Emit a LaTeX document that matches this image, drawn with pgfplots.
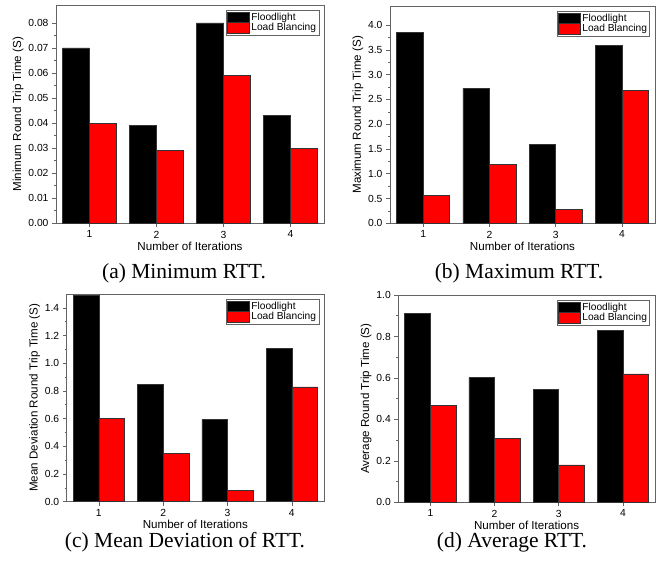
\documentclass[border=0pt]{standalone}
\usepackage{pgfplots}
\pgfplotsset{compat=1.18}
\usepackage{fontspec}
\setmainfont{Liberation Sans}
\newfontfamily\capfont{Liberation Serif}
\definecolor{axgray}{RGB}{100,100,100}
\definecolor{barred}{RGB}{255,0,0}
\pgfplotsset{
  rtt/.style={
    scale only axis,
    ybar,
    bar width=0.4,
    xmin=0.5, xmax=4.5, ymin=0,
    xtick={1,2,3,4},
    scaled y ticks=false,
    tick align=outside,
    xtick pos=bottom, ytick pos=left,
    major tick length=4pt, minor tick length=2pt,
    minor y tick num=1,
    axis line style={axgray, line width=0.8pt},
    every tick/.style={axgray, line width=0.6pt},
    tick label style={font=\fontsize{10.3}{12}\selectfont, black},
    /pgf/number format/assume math mode=true,
    xlabel={Number of Iterations},
    label style={font=\fontsize{11.6}{13}\selectfont},
    xlabel style={yshift=3pt},
    ylabel style={yshift=-2pt},
    xticklabel style={yshift=0pt},
    legend cell align=left,
    legend style={at={(1,1)}, anchor=north east, xshift=-5pt, yshift=-5pt,
      draw=axgray, line width=0.5pt,
      font=\fontsize{10.2}{11}\selectfont,
      inner sep=1pt, row sep=-2pt,
      nodes={inner sep=1.7pt}},
    legend image code/.code={\fill[##1] (0pt,-5.5pt) rectangle (22pt,5.5pt);},
  },
  fl/.style={draw=black!80, line width=0.5pt, fill=black, bar shift=-0.2},
  lb/.style={draw=black!80, line width=0.5pt, fill=barred, bar shift=0.2},
  p2/.style={yticklabel style={/pgf/number format/fixed, /pgf/number format/fixed zerofill, /pgf/number format/precision=2}},
  p1/.style={yticklabel style={/pgf/number format/fixed, /pgf/number format/fixed zerofill, /pgf/number format/precision=1}},
}
\begin{document}
\begin{tikzpicture}
\useasboundingbox (0pt,0pt) rectangle (665pt,563pt);
% (a)
\begin{axis}[rtt, p2, at={(56pt,339.7pt)}, anchor=south west, width=268pt, height=218pt,
  ymax=0.087, ytick={0,0.01,0.02,0.03,0.04,0.05,0.06,0.07,0.08},
  ylabel={Minimum Round Trip Time (S)}]
\addplot[fl] coordinates {(1,0.070) (2,0.039) (3,0.080) (4,0.043)};
\addplot[lb] coordinates {(1,0.040) (2,0.029) (3,0.059) (4,0.030)};
\legend{Floodlight, Load Blancing}
\end{axis}
% (b)
\begin{axis}[rtt, p1, at={(390pt,339.7pt)}, anchor=south west, width=265pt, height=217pt,
  ymax=4.38, ytick={0,0.5,1,1.5,2,2.5,3,3.5,4},
  ylabel={Maximum Round Trip Time (S)}]
\addplot[fl] coordinates {(1,3.86) (2,2.72) (3,1.60) (4,3.59)};
\addplot[lb] coordinates {(1,0.56) (2,1.19) (3,0.28) (4,2.69)};
\legend{Floodlight, Load Blancing}
\end{axis}
% (c)
\begin{axis}[rtt, p1, at={(66.7pt,61.3pt)}, anchor=south west, width=257.3pt, height=207.7pt,
  ymax=1.5, ytick={0,0.2,0.4,0.6,0.8,1.0,1.2,1.4},
  ylabel={Mean Deviation Round Trip Time (S)}]
\addplot[fl] coordinates {(1,1.49) (2,0.85) (3,0.595) (4,1.105)};
\addplot[lb] coordinates {(1,0.60) (2,0.35) (3,0.08) (4,0.83)};
\legend{Floodlight, Load Blancing}
\end{axis}
% (d)
\begin{axis}[rtt, p1, at={(398.3pt,60.7pt)}, anchor=south west, width=256.7pt, height=207.3pt,
  ymax=1.0, ytick={0,0.2,0.4,0.6,0.8,1.0},
  ylabel={Average Round Trip Time (S)}]
\addplot[fl] coordinates {(1,0.913) (2,0.601) (3,0.545) (4,0.831)};
\addplot[lb] coordinates {(1,0.469) (2,0.307) (3,0.180) (4,0.619)};
\legend{Floodlight, Load Blancing}
\end{axis}
\node[font=\capfont\fontsize{21.5}{24}\selectfont] at (184pt,290pt) {(a) Minimum RTT.};
\node[font=\capfont\fontsize{21.5}{24}\selectfont] at (519pt,290pt) {(b) Maximum RTT.};
\node[font=\capfont\fontsize{21.5}{24}\selectfont] at (185pt,21pt) {(c) Mean Deviation of RTT.};
\node[font=\capfont\fontsize{21.5}{24}\selectfont] at (512pt,21pt) {(d) Average RTT.};
\end{tikzpicture}
\end{document}
